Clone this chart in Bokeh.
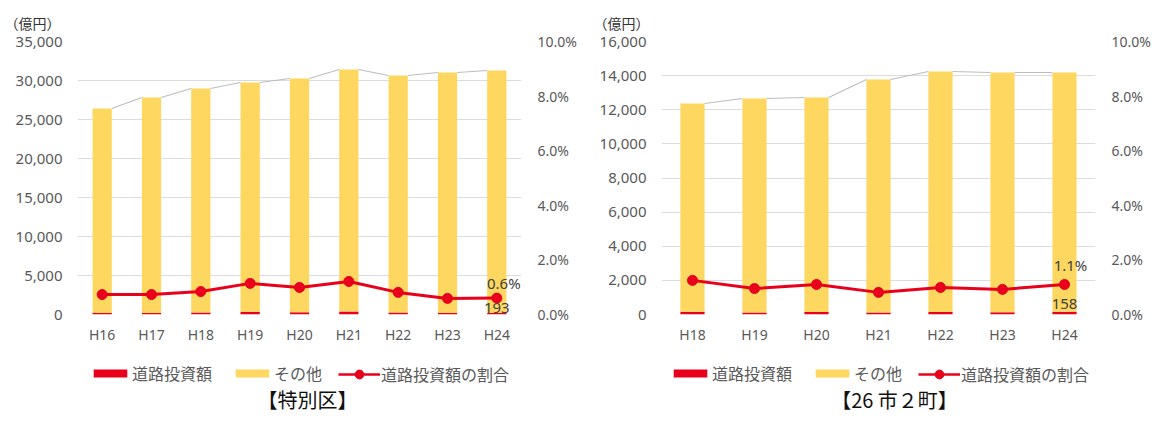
from bokeh.plotting import figure
from bokeh.models import (Range1d, LinearAxis, FixedTicker, NumeralTickFormatter,
                          Legend, LegendItem, Label, Title, ColumnDataSource)
from bokeh.layouts import row, column
from bokeh.core.properties import value
from bokeh.embed import file_html
from bokeh.resources import INLINE

# ---- data: 特別区 ----
cats_a = ["H16", "H17", "H18", "H19", "H20", "H21", "H22", "H23", "H24"]
road_a = [193, 203, 243, 339, 300, 380, 248, 183, 193]
other_a = [26217, 27617, 28731, 29405, 29956, 31030, 30392, 30842, 31089]
ratio_a = [0.0073, 0.0073, 0.0084, 0.0114, 0.0099, 0.0121, 0.0081, 0.0059, 0.006]

# ---- data: 26市2町 ----
cats_b = ["H18", "H19", "H20", "H21", "H22", "H23", "H24"]
road_b = [155, 120, 140, 112, 141, 130, 158]
other_b = [12211, 12539, 12578, 13661, 14101, 14053, 14025]
ratio_b = [0.0125, 0.0095, 0.011, 0.0081, 0.0099, 0.0092, 0.011]

yticks_a = [0, 5000, 10000, 15000, 20000, 25000, 30000, 35000]
yticks_b = [0, 2000, 4000, 6000, 8000, 10000, 12000, 14000, 16000]
pct_ticks = [0.0, 0.02, 0.04, 0.06, 0.08, 0.10]

legend_labels = ["道路投資額", "その他", "道路投資額の割合"]

RED = "#E8001C"
YEL = "#FDD75F"
GRID = "#DCDCDC"
SER = "#BDBDBD"
TXT = "#595959"
JP = "Noto Sans CJK JP"
NUM = "Noto Sans"

BAR_W = 0.39
NAN = float("nan")


def style_axis(ax, size, standoff):
    ax.axis_line_color = None
    ax.major_tick_line_color = None
    ax.minor_tick_line_color = None
    ax.major_tick_out = 0
    ax.major_tick_in = 0
    ax.minor_tick_out = 0
    ax.major_label_text_color = TXT
    ax.major_label_text_font = NUM
    ax.major_label_text_font_size = size
    ax.major_label_standoff = standoff


def legend_style(**kw):
    base = dict(orientation="horizontal", glyph_width=42, label_height=20,
                label_standoff=1, spacing=19, padding=0, margin=0,
                border_line_color=None, background_fill_alpha=0,
                label_text_font=JP, label_text_font_size="16px",
                label_text_color=TXT)
    base.update(kw)
    return Legend(**base)


def make_chart(cats, road, other, ratio, yticks, title, width, bl, br,
               leg_x, title_x, unit_off, lab_dx, lab_dy, road_dy):
    n = len(cats)
    idx = list(range(n))
    total = [r + o for r, o in zip(road, other)]
    p = figure(width=width, height=348, output_backend="svg", toolbar_location=None,
               x_range=Range1d(-0.5, n - 0.5), y_range=Range1d(yticks[0], yticks[-1]),
               min_border_left=bl, min_border_right=br, min_border_top=41, min_border_bottom=34)
    p.outline_line_color = None
    p.extra_y_ranges = {"pct": Range1d(pct_ticks[0], pct_ticks[-1])}

    p.xaxis.ticker = FixedTicker(ticks=idx)
    p.xaxis.major_label_overrides = {i: c for i, c in zip(idx, cats)}
    p.yaxis.ticker = FixedTicker(ticks=yticks)
    p.yaxis.formatter = NumeralTickFormatter(format="0,0")
    style_axis(p.xaxis[0], "14px", 10)
    style_axis(p.yaxis[0], "15px", 15)

    rax = LinearAxis(y_range_name="pct", ticker=FixedTicker(ticks=pct_ticks),
                     formatter=NumeralTickFormatter(format="0.0%"))
    style_axis(rax, "14px", 16)
    p.add_layout(rax, "right")

    p.xgrid.grid_line_color = None
    p.ygrid.grid_line_color = GRID
    p.ygrid.grid_line_width = 1

    src = ColumnDataSource(dict(x=idx, road=road, total=total, ratio=ratio))
    p.vbar(x="x", width=BAR_W, bottom=0, top="road", source=src,
           fill_color=RED, line_color=None)
    p.vbar(x="x", width=BAR_W, bottom="road", top="total", source=src,
           fill_color=YEL, line_color=None)
    p.segment(x0=[i + BAR_W / 2 for i in idx[:-1]], y0=total[:-1],
              x1=[i + 1 - BAR_W / 2 for i in idx[:-1]], y1=total[1:],
              line_color=SER, line_width=1.2)
    p.line(x="x", y="ratio", source=src, y_range_name="pct",
           line_color=RED, line_width=3)
    p.scatter(x="x", y="ratio", source=src, y_range_name="pct",
              marker="circle", size=10, fill_color=RED, line_color=RED)

    last = n - 1
    p.text(x=[idx[last]], y=[ratio[last]], text=[f"{ratio[last] * 100:.1f}%"],
           y_range_name="pct", text_align="center", text_baseline="middle",
           x_offset=lab_dx, y_offset=lab_dy, text_font=value(NUM),
           text_font_size="15px", text_color="#404040")
    p.text(x=[idx[last]], y=[road[last]], text=[f"{road[last]}"],
           text_align="center", text_baseline="middle", y_offset=road_dy,
           text_font=value(NUM), text_font_size="15px", text_color="#404040")

    p.add_layout(Title(text="（億円）", align="left", offset=unit_off, standoff=18,
                       text_font=JP, text_font_size="14px", text_color="#333333",
                       text_font_style="normal"), "above")

    # legend + caption strip below the chart
    lf = figure(width=width, height=72, output_backend="svg", toolbar_location=None,
                x_range=Range1d(0, 1), y_range=Range1d(0, 1),
                x_axis_location=None, y_axis_location=None,
                min_border_left=bl, min_border_right=br, min_border_top=0, min_border_bottom=0)
    lf.outline_line_color = None
    lf.grid.visible = False
    proxy = ColumnDataSource(dict(x=[NAN], y=[NAN]))
    g1 = lf.vbar(x="x", top="y", width=0.1, source=proxy, fill_color=RED, line_color=None)
    g2 = lf.vbar(x="x", top="y", width=0.1, source=proxy, fill_color=YEL, line_color=None)
    g3 = lf.line(x="x", y="y", source=proxy, line_color=RED, line_width=2.5)
    g4 = lf.scatter(x="x", y="y", source=proxy, marker="circle", size=9,
                    fill_color=RED, line_color=RED)
    leg1 = legend_style(items=[LegendItem(label=legend_labels[0], renderers=[g1]),
                               LegendItem(label=legend_labels[1], renderers=[g2])],
                        location=(leg_x, 35), glyph_height=10)
    leg2 = legend_style(items=[LegendItem(label=legend_labels[2], renderers=[g3, g4])],
                        location=(leg_x + 249, 34), glyph_height=22)
    lf.add_layout(leg1, "center")
    lf.add_layout(leg2, "center")
    lf.add_layout(Label(x=title_x, y=21, x_units="screen", y_units="screen",
                        text=title, text_font=JP, text_font_size="20px",
                        text_color="#111111", text_align="center",
                        text_baseline="middle"))
    return column(p, lf, spacing=0)


c1 = make_chart(cats_a, road_a, other_a, ratio_a, yticks_a, "【特別区】",
                588, 77, 67, 12, 230, -73, 7, -15, -5)
c2 = make_chart(cats_b, road_b, other_b, ratio_b, yticks_b, "【26 市２町】",
                567, 73, 60, 8, 233, -68, 6, -19, -8)

layout = row(c1, c2, spacing=0)
open("out.html", "w").write(file_html(layout, INLINE))
